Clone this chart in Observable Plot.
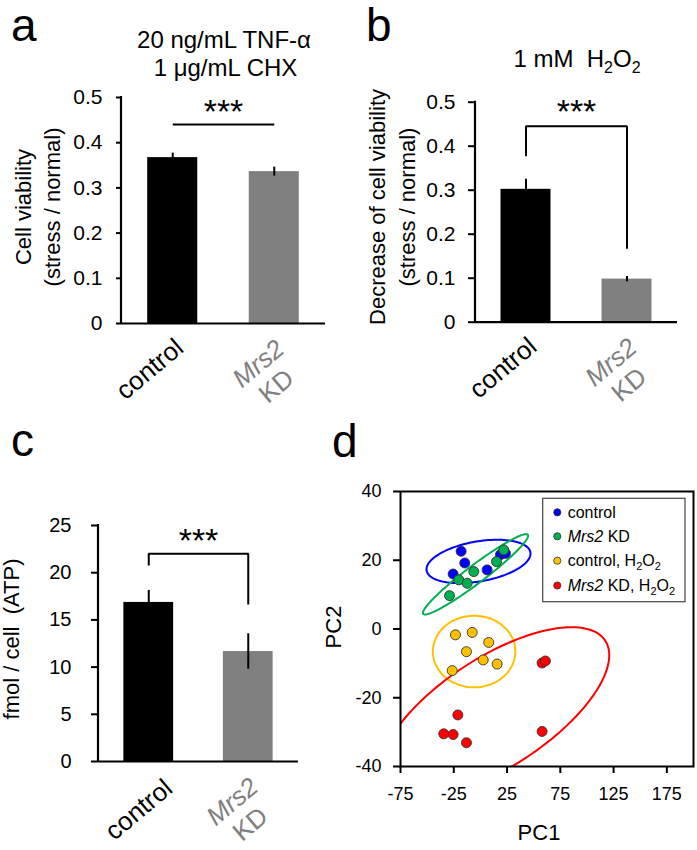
<!DOCTYPE html>
<html><head><meta charset="utf-8">
<script src="https://cdn.jsdelivr.net/npm/d3@7"></script>
<script src="https://cdn.jsdelivr.net/npm/@observablehq/plot@0.6"></script>
<style>
body{margin:0;background:#fff;}
#fig{position:relative;width:697px;height:850px;overflow:hidden;background:#fff;font-family:"Liberation Sans",Arial,sans-serif;}
#fig .panel{position:absolute;}
#fig .panel svg{overflow:visible;display:block;}
[aria-label^="y-axis"] path,[aria-label^="y-axis"] line,[aria-label^="x-axis"] path,[aria-label^="x-axis"] line{stroke-width:2px;}
</style></head><body><div id="fig"></div>
<script>
// ---------- data ----------
const categories = ["control", "Mrs2 KD"];
const barColors = ["#000000", "#808080"];

// panel a : 20 ng/mL TNF-α + 1 µg/mL CHX
const tnfValues = [0.367, 0.336];
const tnfErrors = [0.010, 0.010];
const tnfTicks = [0, 0.1, 0.2, 0.3, 0.4, 0.5];
const tnfBracket = [0.44, 0.44, 0.44];      // left leg end, top, right leg end
const tnfStars = 0.467;

// panel b : 1 mM H2O2
const h2o2Values = [0.302, 0.098];
const h2o2Errors = [0.023, 0.006];
const h2o2Ticks = [0, 0.1, 0.2, 0.3, 0.4, 0.5];
const h2o2Bracket = [0.377, 0.4455, 0.167];
const h2o2Stars = 0.477;

// panel c : ATP
const atpValues = [16.85, 11.65];
const atpErrors = [1.27, 1.88];
const atpTicks = [0, 5, 10, 15, 20, 25];
const atpBracket = [20.76, 22.0, 16.63];
const atpStars = 23.3;

// panel d : PCA
const groups = ["control", "Mrs2 KD", "control, H2O2", "Mrs2 KD, H2O2"];
const groupColors = ["#0000ff", "#00b050", "#ffc000", "#ff0000"];
const controlPts = [[-18.1, 22.6], [-14.7, 19.2], [-25.6, 16.0], [6.3, 17.2], [18.8, 21.6], [23.5, 22.0]];
const mrs2Pts = [[21.9, 23.0], [15.1, 19.6], [-6.2, 16.7], [-20.3, 14.3], [-12.4, 13.3], [-29.0, 9.7]];
const controlH2O2Pts = [[-23.4, -1.7], [-7.7, -1.0], [7.8, -3.9], [-13.1, -6.6], [2.6, -9.0], [15.7, -10.2], [-26.5, -12.1]];
const mrs2H2O2Pts = [[-34.4, -30.5], [-25.6, -30.7], [-21.2, -25.0], [-13.1, -33.1], [57.9, -9.9], [61.0, -9.3], [57.9, -29.8]];
const ellipseCenters = [[-1.8, 19.65], [-4.6, 15.9], [-5.9, -6.55], [13.4, -24.3]];
const ellipseMajor = [[48.7, 2.66], [49.1, 11.5], [38.7, 0], [103.8, 20.9]];
const ellipseMinor = [[3.26, -5.73], [5.07, -2.09], [0, -10.42], [28.1, -13.4]];
const pc1Ticks = [-75, -25, 25, 75, 125, 175];
const pc2Ticks = [-40, -20, 0, 20, 40];

// ---------- helpers ----------
const FONT = "Liberation Sans, Arial, sans-serif";
const NB = "\u00a0";
const fig = d3.select("#fig");
function place(el, left, top) {
  fig.append("div").attr("class", "panel").style("left", left + "px").style("top", top + "px").node().appendChild(el);
}
function bandCenters(plot) {
  const s = plot.scale("x");
  const n = s.domain.length;
  const [r0, r1] = s.range;
  const pi = s.paddingInner ?? 0, po = s.paddingOuter ?? 0, al = s.align ?? 0.5;
  const step = (r1 - r0) / (n - pi + 2 * po);
  const bw = step * (1 - pi);
  const start = r0 + (r1 - r0 - step * (n - pi)) * al;
  return s.domain.map((d, i) => start + step * i + bw / 2);
}

function barPanel(cfg) {
  const rows = categories.map((c, i) => ({cat: c, v: cfg.values[i], e: cfg.errors[i]}));
  const br = [
    {cat: categories[0], v: cfg.bracket[0]},
    {cat: categories[0], v: cfg.bracket[1]},
    {cat: categories[1], v: cfg.bracket[1]},
    {cat: categories[1], v: cfg.bracket[2]}
  ];
  const plot = Plot.plot({
    width: cfg.width, height: cfg.height,
    marginLeft: cfg.ml, marginRight: cfg.mr, marginTop: cfg.mt, marginBottom: cfg.mb,
    x: {domain: categories, paddingInner: cfg.pi, paddingOuter: cfg.po, axis: null, round: false},
    y: {domain: [cfg.ticks[0], cfg.ticks[cfg.ticks.length - 1]], ticks: cfg.ticks, tickSize: cfg.tickSize,
        tickPadding: cfg.tickPadding, label: null, tickFormat: d => String(d)},
    color: {domain: categories, range: barColors},
    style: {fontFamily: FONT, fontSize: cfg.fontSize + "px", color: "#000", background: "transparent", overflow: "visible"},
    marks: [
      Plot.barY(rows, {x: "cat", y: "v", fill: "cat"}),
      Plot.ruleX(rows, {x: "cat", y1: d => d.v - d.e, y2: d => d.v + d.e, stroke: "#000", strokeWidth: 2}),
      Plot.ruleY([cfg.ticks[0]], {stroke: "#000", strokeWidth: 2.2}),
      Plot.line(br, {x: "cat", y: "v", stroke: "#000", strokeWidth: 2, strokeLinejoin: "miter", strokeLinecap: "butt"}),
      Plot.text([cfg.stars], {y: d => d, text: () => "***", fontSize: 34, fill: "#000"})
    ]
  });
  const sy = plot.scale("y");
  d3.select(plot).append("line")
    .attr("x1", cfg.ml).attr("x2", cfg.ml)
    .attr("y1", sy.range[0] + 1).attr("y2", sy.range[1] - 1)
    .attr("stroke", "#000").attr("stroke-width", 2.2);
  place(plot, cfg.left, cfg.top);
  return {centers: bandCenters(plot).map(c => c + cfg.left), axisY: sy.range[0] + cfg.top};
}

// ---------- panels a, b, c ----------
const pa = barPanel({left: 0, top: 0, width: 340, height: 430, ml: 121, mr: 15, mt: 97, mb: 107,
  pi: 0.507, po: 0.258, values: tnfValues, errors: tnfErrors, ticks: tnfTicks, bracket: tnfBracket,
  stars: tnfStars, tickSize: 5, tickPadding: 14, fontSize: 21});
const pb = barPanel({left: 340, top: 0, width: 357, height: 430, ml: 135, mr: 20, mt: 101.7, mb: 108.3,
  pi: 0.505, po: 0.2525, values: h2o2Values, errors: h2o2Errors, ticks: h2o2Ticks, bracket: h2o2Bracket,
  stars: h2o2Stars, tickSize: 7, tickPadding: 13, fontSize: 21});
const pc = barPanel({left: 0, top: 430, width: 340, height: 420, ml: 98, mr: 42, mt: 95, mb: 89,
  pi: 0.5, po: 0.255, values: atpValues, errors: atpErrors, ticks: atpTicks, bracket: atpBracket,
  stars: atpStars, tickSize: 7, tickPadding: 20, fontSize: 20});

// ---------- panel d ----------
const ptSets = [controlPts, mrs2Pts, controlH2O2Pts, mrs2H2O2Pts];
function ellipsePoints(c, u, v) {
  return d3.range(0, 361, 3).map(deg => {
    const t = deg * Math.PI / 180;
    return {x: c[0] + u[0] * Math.cos(t) + v[0] * Math.sin(t), y: c[1] + u[1] * Math.cos(t) + v[1] * Math.sin(t)};
  });
}
const dMarks = [];
groups.forEach((g, i) => {
  dMarks.push(Plot.line(ellipsePoints(ellipseCenters[i], ellipseMajor[i], ellipseMinor[i]),
    {x: "x", y: "y", stroke: groupColors[i], strokeWidth: 2, clip: true}));
});
groups.forEach((g, i) => {
  dMarks.push(Plot.dot(ptSets[i], {x: d => d[0], y: d => d[1], r: 5, fill: groupColors[i], stroke: "#333", strokeWidth: 0.9}));
});
dMarks.push(Plot.frame({stroke: "#000", strokeWidth: 2}));
const pd = Plot.plot({
  width: 357, height: 390, marginLeft: 60, marginRight: 4, marginTop: 31, marginBottom: 84,
  x: {domain: [-75, 200], ticks: pc1Ticks, tickSize: 7, tickPadding: 14, label: null, tickFormat: d => String(d)},
  y: {domain: [-40, 40], ticks: pc2Ticks, tickSize: 7, tickPadding: 12, label: null, tickFormat: d => String(d)},
  style: {fontFamily: FONT, fontSize: "18px", color: "#000", background: "transparent", overflow: "visible"},
  marks: dMarks
});
place(pd, 340, 460);

// ---------- overlay text ----------
const ov = fig.append("svg").attr("width", 697).attr("height", 850)
  .style("position", "absolute").style("left", 0).style("top", 0).style("pointer-events", "none")
  .attr("font-family", FONT);

function text(x, y, s, o = {}) {
  const t = ov.append("text").attr("x", x).attr("y", y)
    .attr("font-size", o.size || 22).attr("fill", o.fill || "#000")
    .attr("text-anchor", o.anchor || "middle");
  if (o.rotate) t.attr("transform", `rotate(${o.rotate},${x},${y})`);
  if (o.dy) t.attr("dy", o.dy);
  if (o.italic) t.attr("font-style", "italic");
  if (s !== null) t.text(s);
  return t;
}
function addH2O2(t, size) {
  const sub = Math.round(size * 0.68), off = Math.round(size * 0.25);
  t.append("tspan").text("H");
  t.append("tspan").attr("font-size", sub).attr("dy", off).text("2");
  t.append("tspan").attr("dy", -off).text("O");
  t.append("tspan").attr("font-size", sub).attr("dy", off).text("2");
}

// panel letters
text(11, 41, "a", {size: 46, anchor: "start"});
text(366, 41, "b", {size: 46, anchor: "start"});
text(11, 456, "c", {size: 46, anchor: "start"});
text(332, 457, "d", {size: 46, anchor: "start"});

// titles
text(224, 48, "20 ng/mL TNF-α", {size: 24});
text(225.5, 76, "1 μg/mL CHX", {size: 24});
const tb = text(577, 67, null, {size: 24});
tb.append("tspan").text("1 mM " + NB);
addH2O2(tb, 24);

// y axis titles
text(30.5, 207, "Cell viability", {size: 22, rotate: -90});
text(60.4, 207, "(stress / normal)", {size: 22, rotate: -90});
text(385.4, 207, "Decrease of cell viability", {size: 22, rotate: -90});
text(415.4, 207, "(stress / normal)", {size: 22, rotate: -90});
text(18.7, 639, "fmol / cell " + NB + "(ATP)", {size: 22, rotate: -90});
text(341, 627, "PC2", {size: 22, rotate: -90});
text(539, 840, "PC1", {size: 22});

// category labels (rotated)
function catLabels(p, ctrlOff) {
  const [c0, c1] = p.centers;
  text(c0 + ctrlOff[0], p.axisY + ctrlOff[1], categories[0], {size: 26, rotate: -40, dy: "0.36em"});
  const [italicPart, rest] = categories[1].split(" ");
  text(c1 - 16, p.axisY + 40, italicPart, {size: 26, rotate: -40, dy: "0.36em", fill: "#808080", italic: true});
  text(c1 + 2, p.axisY + 62.5, rest, {size: 26, rotate: -40, dy: "0.36em", fill: "#808080"});
}
catLabels(pa, [-23, 45.5]);
catLabels(pb, [-23, 45.5]);
catLabels(pc, [-10, 48]);

// legend for panel d
ov.append("rect").attr("x", 542.7).attr("y", 498.3).attr("width", 142.3).attr("height", 103.4)
  .attr("fill", "#fff").attr("stroke", "#444").attr("stroke-width", 1.2);
const legendRows = [512.3, 536.3, 560.7, 585.5];
groups.forEach((g, i) => {
  const y = legendRows[i];
  ov.append("circle").attr("cx", 557.3).attr("cy", y).attr("r", 3.6)
    .attr("fill", groupColors[i]).attr("stroke", "#333").attr("stroke-width", 0.8);
  const t = text(567.7, y + 5.7, null, {size: 16, anchor: "start"});
  const [label, extra] = g.split(", ");
  if (label.startsWith("Mrs2")) {
    t.append("tspan").attr("font-style", "italic").text("Mrs2");
    t.append("tspan").text(" " + label.slice(5));
  } else {
    t.append("tspan").text(label);
  }
  if (extra) {
    t.append("tspan").text(", ");
    addH2O2(t, 16);
  }
});
</script></body></html>
